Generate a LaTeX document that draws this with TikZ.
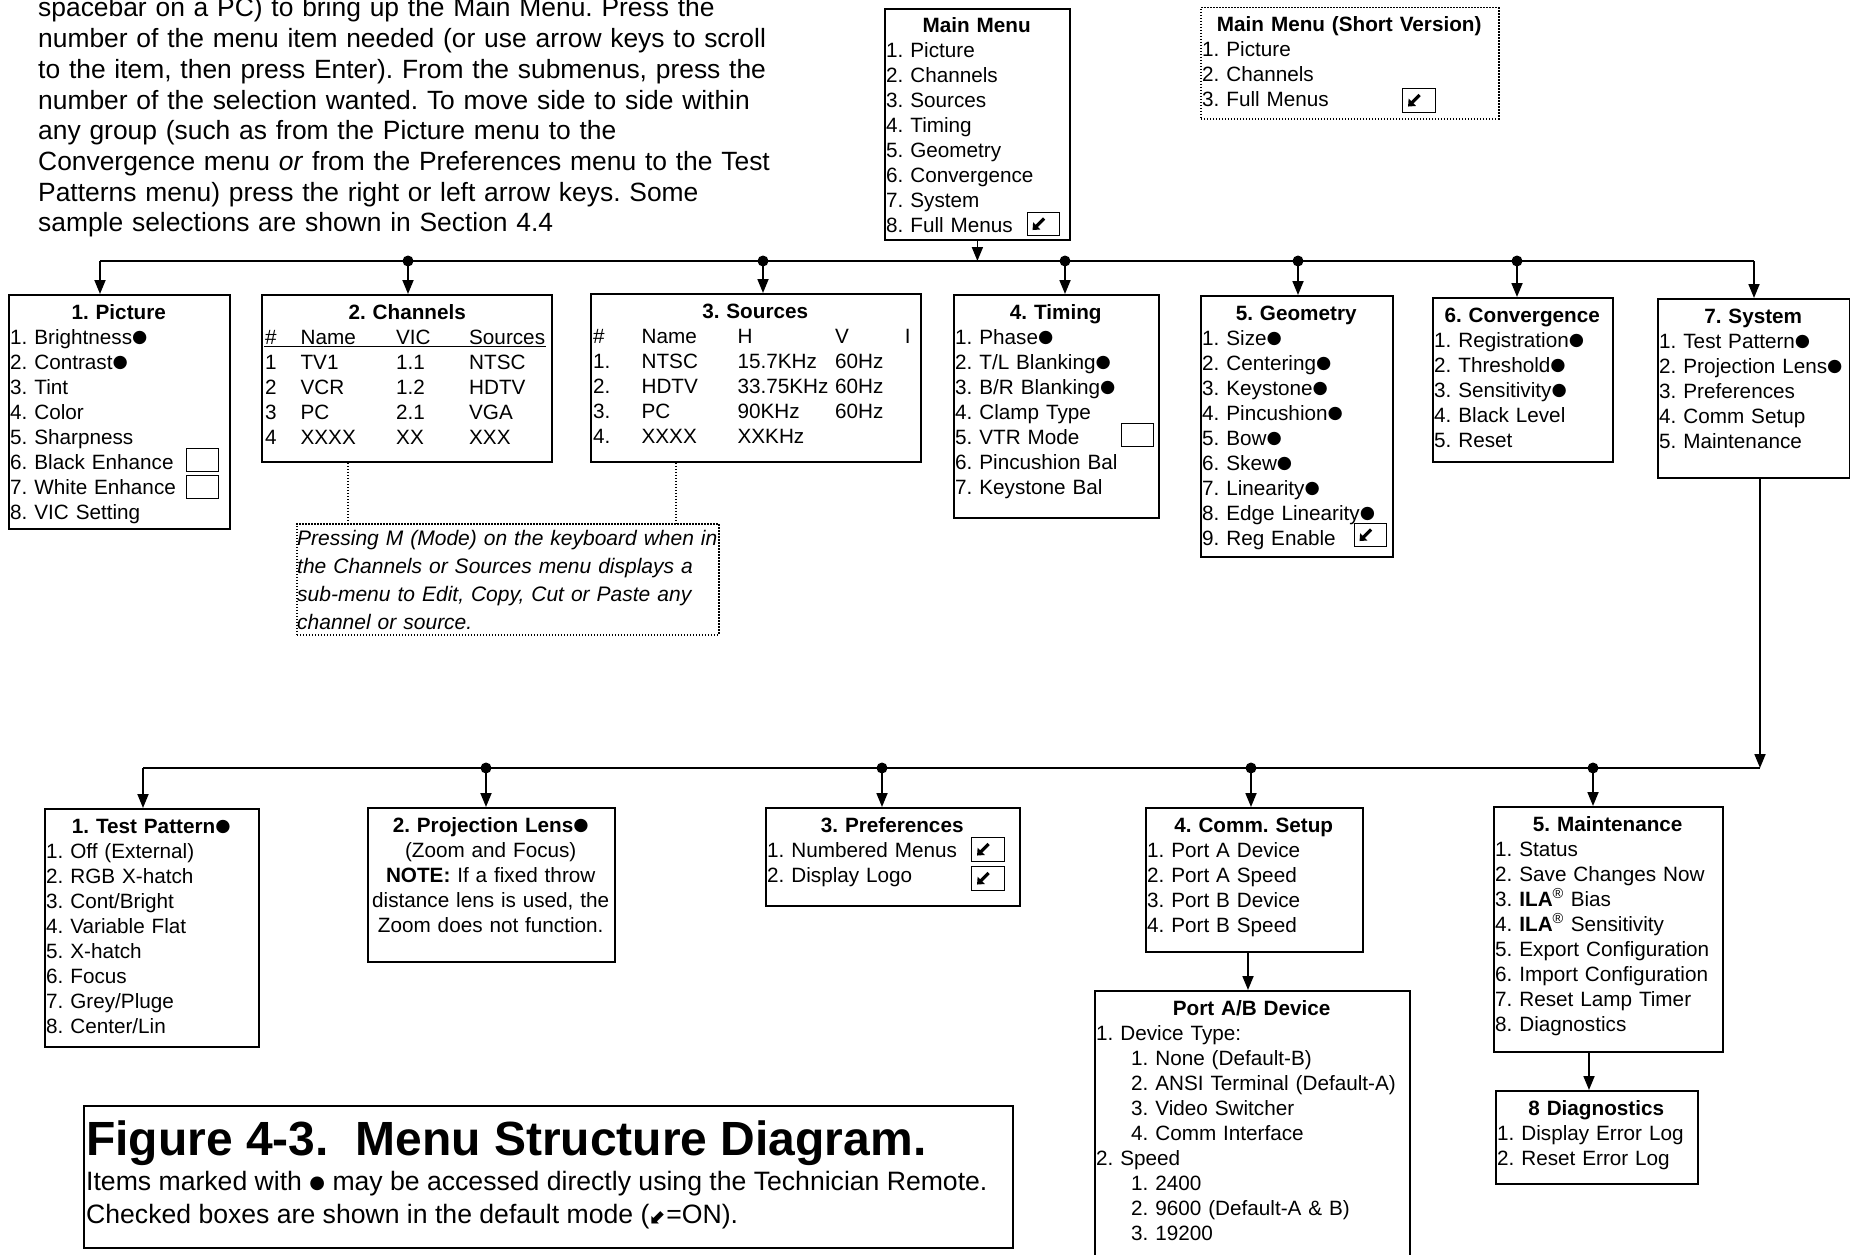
\documentclass[tikz,border=0pt]{standalone}
\usepackage{fontspec}
\setmainfont{Liberation Sans}
\newfontfamily\dejavu{DejaVu Sans}
\usetikzlibrary{arrows.meta}
\newcommand\menufont{\fontsize{20.7pt}{25pt}\selectfont}
\newcommand\bigfont{\fontsize{26.4pt}{30.7pt}\selectfont}
\newcommand\capfont{\fontsize{26.6pt}{30.7pt}\selectfont}
\newcommand\notefont{\fontsize{21pt}{28pt}\selectfont}
\newcommand\bdot{\raisebox{1.8pt}{\dejavu\fontsize{17.5pt}{25pt}\selectfont ●}}
\newcommand\capdot{\raisebox{1.8pt}{\dejavu\fontsize{18pt}{25pt}\selectfont ●}}
\newcommand\colx[2]{\makebox[#1pt][l]{#2}}
\newcommand\ttl[1]{{\centering\bfseries #1\par}}
\newcommand\ind{\hspace*{35pt}}
\tikzset{
  box/.style={draw, line width=1.8pt, anchor=north west, inner sep=0pt},
  dbox/.style={draw, line width=1.5pt, dash pattern=on 1.5pt off 1.5pt, anchor=north west, inner sep=0pt},
  txt/.style={anchor=base west, inner sep=0pt, align=left, font=\menufont},
  ctxt/.style={anchor=base west, inner sep=0pt, align=center, font=\menufont},
  chk/.style={draw, line width=1.1pt, anchor=north west, minimum width=32pt, minimum height=23pt, inner sep=0pt},
  chkon/.style={path picture={\draw[line width=3.2pt, -{Triangle[length=6pt,width=10pt]}] ([shift={(0.5,-5.5)}]path picture bounding box.center) -- ([shift={(-11,6)}]path picture bounding box.center);}},
  conn/.style={line width=1.8pt},
  arr/.style={line width=1.8pt, -{Triangle[length=14pt,width=11pt]}},
  dline/.style={line width=1.5pt, dash pattern=on 1.5pt off 1.5pt},
  jdot/.style={circle, fill, inner sep=0pt, minimum size=11pt},
}
\begin{document}
\frenchspacing
\begin{tikzpicture}[x=1pt, y=-1pt, every node/.style={inner sep=0pt}]
\useasboundingbox (0,0) rectangle (1850,1255);
\fill[white] (0,0) rectangle (1850,1255);

% intro text
\node[anchor=base west, align=left, text width=800pt, font=\bigfont] (intro) at (38,17) {spacebar on a PC) to bring up the Main Menu. Press the\\number of the menu item needed (or use arrow keys to scroll\\to the item, then press Enter). From the submenus, press the\\number of the selection wanted. To move side to side within\\any group (such as from the Picture menu to the\\Convergence menu \textit{or} from the Preferences menu to the Test\\Patterns menu) press the right or left arrow keys. Some\\sample selections are shown in Section 4.4};

% main menu
\node[box, minimum width=185pt, minimum height=231pt] (main) at (884,8) {};
\node[txt, text width=181pt] (mainT) at ([shift={(2,25)}]main.north west) {\ttl{Main Menu}1. Picture\\2. Channels\\3. Sources\\4. Timing\\5. Geometry\\6. Convergence\\7. System\\8. Full Menus};
\node[chk, chkon] (cbMain) at (1027,212) {};

% short version
\node[dbox, minimum width=298pt, minimum height=111pt] (short) at (1200,7) {};
\node[txt, text width=294pt] (shortT) at ([shift={(2,25)}]short.north west) {\ttl{Main Menu (Short Version)}1. Picture\\2. Channels\\3. Full Menus};
\node[chk, chkon, minimum width=33pt, minimum height=24pt] (cbShort) at (1402,88) {};

% row 1
\node[box, minimum width=221pt, minimum height=234pt] (pic) at (8,294) {};
\node[txt, text width=217pt] (picT) at ([shift={(2,25)}]pic.north west) {\ttl{1. Picture}1. Brightness\bdot\\2. Contrast\bdot\\3. Tint\\4. Color\\5. Sharpness\\6. Black Enhance\\7. White Enhance\\8. VIC Setting};
\node[chk] (cbPic6) at (186,448) {};
\node[chk] (cbPic7) at (186,475) {};

\node[box, minimum width=290pt, minimum height=167pt] (chan) at (261,294) {};
\node[txt, text width=284pt] (chanT) at ([shift={(4,25)}]chan.north west) {\ttl{2. Channels}\colx{35.4}{\#}\colx{95.6}{Name}\colx{73}{VIC}Sources\\\colx{35.4}{1}\colx{95.6}{TV1}\colx{73}{1.1}NTSC\\\colx{35.4}{2}\colx{95.6}{VCR}\colx{73}{1.2}HDTV\\\colx{35.4}{3}\colx{95.6}{PC}\colx{73}{2.1}VGA\\\colx{35.4}{4}\colx{95.6}{XXXX}\colx{73}{XX}XXX};
\coordinate (ulL) at (264,346.5);
\coordinate (ulR) at (546,346.5);
\draw[line width=1.3pt] (ulL) -- (ulR);

\node[box, minimum width=330pt, minimum height=168pt] (src) at (590,293) {};
\node[txt, text width=324pt] (srcT) at ([shift={(3,25)}]src.north west) {\ttl{3. Sources}\colx{48.4}{\#}\colx{96}{Name}\colx{97.6}{H}\colx{69.6}{V}I\\\colx{48.4}{1.}\colx{96}{NTSC}\colx{97.6}{15.7KHz}60Hz\\\colx{48.4}{2.}\colx{96}{HDTV}\colx{97.6}{33.75KHz}60Hz\\\colx{48.4}{3.}\colx{96}{PC}\colx{97.6}{90KHz}60Hz\\\colx{48.4}{4.}\colx{96}{XXXX}XXKHz};

\node[box, minimum width=205pt, minimum height=223pt] (tim) at (953,294) {};
\node[txt, text width=201pt] (timT) at ([shift={(2,25)}]tim.north west) {\ttl{4. Timing}1. Phase\bdot\\2. T/L Blanking\bdot\\3. B/R Blanking\bdot\\4. Clamp Type\\5. VTR Mode\\6. Pincushion Bal\\7. Keystone Bal};
\node[chk] (cbTim) at (1121,423) {};

\node[box, minimum width=192pt, minimum height=261pt] (geo) at (1200,295) {};
\node[txt, text width=188pt] (geoT) at ([shift={(2,25)}]geo.north west) {\ttl{5. Geometry}1. Size\bdot\\2. Centering\bdot\\3. Keystone\bdot\\4. Pincushion\bdot\\5. Bow\bdot\\6. Skew\bdot\\7. Linearity\bdot\\8. Edge Linearity\bdot\\9. Reg Enable};
\node[chk, chkon] (cbGeo) at (1354,523) {};

\node[box, minimum width=180pt, minimum height=164pt] (conv) at (1432,297) {};
\node[txt, text width=176pt] (convT) at ([shift={(2,25)}]conv.north west) {\ttl{6. Convergence}1. Registration\bdot\\2. Threshold\bdot\\3. Sensitivity\bdot\\4. Black Level\\5. Reset};

\node[box, minimum width=192pt, minimum height=179pt] (sys) at (1657,298) {};
\node[txt, text width=188pt] (sysT) at ([shift={(2,25)}]sys.north west) {\ttl{7. System}1. Test Pattern\bdot\\2. Projection Lens\bdot\\3. Preferences\\4. Comm Setup\\5. Maintenance};

% note
\node[dbox, minimum width=422pt, minimum height=111pt] (note) at (296,523) {};
\node[anchor=base west, align=left, text width=460pt, font=\notefont\itshape] (noteT) at ([shift={(1,22.5)}]note.north west) {Pressing M (Mode) on the keyboard when in\\the Channels or Sources menu displays a\\sub-menu to Edit, Copy, Cut or Paste any\\channel or source.};

% row 2
\node[box, minimum width=214pt, minimum height=238pt] (tp) at (44,808) {};
\node[txt, text width=210pt] (tpT) at ([shift={(2,25)}]tp.north west) {\ttl{1. Test Pattern\bdot}1. Off (External)\\2. RGB X-hatch\\3. Cont/Bright\\4. Variable Flat\\5. X-hatch\\6. Focus\\7. Grey/Pluge\\8. Center/Lin};

\node[box, minimum width=247pt, minimum height=154pt] (pl) at (367,807) {};
\node[ctxt, text width=243pt] (plT) at ([shift={(2,25)}]pl.north west) {\textbf{2. Projection Lens\bdot}\\(Zoom and Focus)\\\textbf{NOTE:} If a fixed throw\\distance lens is used, the\\Zoom does not function.};

\node[box, minimum width=254pt, minimum height=98pt] (pref) at (765,807) {};
\node[txt, text width=250pt] (prefT) at ([shift={(2,25)}]pref.north west) {\ttl{3. Preferences}1. Numbered Menus\\2. Display Logo};
\node[chk, chkon, minimum width=33pt, minimum height=24pt] (cbPref1) at (971,837) {};
\node[chk, chkon, minimum width=33pt, minimum height=24pt] (cbPref2) at (971,866) {};

\node[box, minimum width=217pt, minimum height=144pt] (comm) at (1145,807) {};
\node[txt, text width=213pt] (commT) at ([shift={(2,25)}]comm.north west) {\ttl{4. Comm. Setup}1. Port A Device\\2. Port A Speed\\3. Port B Device\\4. Port B Speed};

\node[box, minimum width=315pt, minimum height=285pt] (port) at (1094,990) {};
\node[txt, text width=311pt] (portT) at ([shift={(2,25)}]port.north west) {\ttl{Port A/B Device}1. Device Type:\\\ind 1. None (Default-B)\\\ind 2. ANSI Terminal (Default-A)\\\ind 3. Video Switcher\\\ind 4. Comm Interface\\2. Speed\\\ind 1. 2400\\\ind 2. 9600 (Default-A \& B)\\\ind 3. 19200};

\node[box, minimum width=229pt, minimum height=245pt] (maint) at (1493,806) {};
\node[txt, text width=225pt] (maintT) at ([shift={(2,25)}]maint.north west) {\ttl{5. Maintenance}1. Status\\2. Save Changes Now\\3. \textbf{ILA}\textsuperscript{®} Bias\\4. \textbf{ILA}\textsuperscript{®} Sensitivity\\5. Export Configuration\\6. Import Configuration\\7. Reset Lamp Timer\\8. Diagnostics};

\node[box, minimum width=202pt, minimum height=93pt] (diag) at (1495,1090) {};
\node[txt, text width=198pt] (diagT) at ([shift={(2,25)}]diag.north west) {\ttl{8 Diagnostics}1. Display Error Log\\2. Reset Error Log};

% caption
\node[box, minimum width=929pt, minimum height=142pt] (cap) at (83,1105) {};
\node[anchor=base west, font=\fontsize{48pt}{52pt}\selectfont\bfseries] (capT) at (86,1155) {Figure 4-3.\ \ Menu Structure Diagram.};
\node[anchor=base west, font=\capfont] (capL1) at (86,1190) {Items marked with \capdot\ may be accessed directly using the Technician Remote.};
\node[anchor=base west, font=\capfont] (capL2) at (86,1223) {Checked boxes are shown in the default mode ({\dejavu\bfseries\fontsize{20pt}{20pt}\selectfont ⬋}=ON).};

% top bus
\coordinate (b1) at (100,261);
\coordinate (b2) at (408,261);
\coordinate (b3) at (763,261);
\coordinate (b4) at (1065,261);
\coordinate (b5) at (1298,261);
\coordinate (b6) at (1517,261);
\coordinate (b7) at (1754,261);
\draw[conn] (b1) -- (b7);
\draw[arr] (main.south) -- (main.south |- b1);
\foreach \b/\n in {b1/pic, b2/chan, b3/src, b4/tim, b5/geo, b6/conv, b7/sys}
  \draw[arr] (\b) -- (\b |- \n.north);
\foreach \b in {b2,b3,b4,b5,b6}
  \node[jdot] (d\b) at (\b) {};

% lower bus
\coordinate (c1) at (143,768);
\coordinate (c2) at (486,768);
\coordinate (c3) at (882,768);
\coordinate (c4) at (1251,768);
\coordinate (c5) at (1593,768);
\coordinate (c6) at (1760,768);
\draw[conn] (c1) -- (c6);
\draw[arr] (c6 |- sys.south) -- (c6);
\foreach \c/\n in {c1/tp, c2/pl, c3/pref, c4/comm, c5/maint}
  \draw[arr] (\c) -- (\c |- \n.north);
\foreach \c in {c2,c3,c4,c5}
  \node[jdot] (d\c) at (\c) {};

\coordinate (cp) at (1248,0);
\draw[arr] (cp |- comm.south) -- (cp |- port.north);
\coordinate (md) at (1589,0);
\draw[arr] (md |- maint.south) -- (md |- diag.north);

% dotted links to note
\coordinate (n1) at (348,0);
\coordinate (n2) at (676,0);
\draw[dline] (n1 |- chan.south) -- (n1 |- note.north);
\draw[dline] (n2 |- src.south) -- (n2 |- note.north);
\end{tikzpicture}
\end{document}
